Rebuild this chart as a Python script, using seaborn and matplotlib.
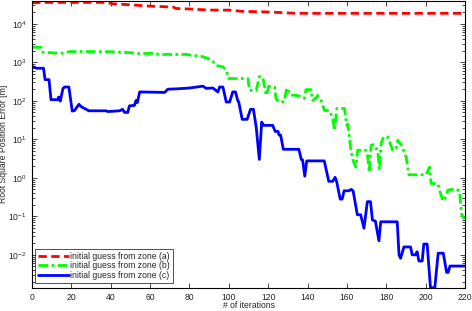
import numpy as np
import matplotlib; matplotlib.use('agg')
import matplotlib.pyplot as plt
import matplotlib.ticker as mticker
import seaborn as sns


sns.set_style("ticks")
plt.rcParams['font.family'] = ['Liberation Sans', 'DejaVu Sans']
plt.rcParams['mathtext.default'] = 'regular'
plt.rcParams['xtick.direction'] = 'in'
plt.rcParams['ytick.direction'] = 'in'

# zone (a): red dashed
iter_a = [0, 5, 38, 41, 51, 58, 66, 72, 73, 82, 90, 100, 107, 117, 127, 134, 220]
err_a = [3.5e4, 3.6e4, 3.6e4, 3.3e4, 3.1e4, 2.9e4, 2.8e4, 2.7e4, 2.5e4, 2.4e4,
         2.27e4, 2.27e4, 2.1e4, 2.05e4, 1.95e4, 1.87e4, 1.87e4]

# zone (b): green dash-dot
iter_b = [0, 4.6, 5.5, 13.3, 15.9, 19.2, 37.9, 49.7, 54.7, 61.5, 64.9, 78.4, 86.8,
          91.1, 93.6, 97, 98.7, 99.9, 109.7, 110.5, 113.9, 114.7, 115.6, 117.3,
          119, 120.3, 123.2, 124, 125.7, 128.2, 129.4, 131.6, 134.1, 136.7, 138.4,
          139.2, 141.8, 142.6, 144.3, 145.2, 146.9, 148.6, 151.1, 152.8, 153.7,
          154.9, 158.8, 159.9, 160.5, 162, 163.4, 164.6, 165.5, 169.7, 170.5,
          171.4, 172.3, 174, 175.7, 176.5, 177.4, 178.6, 180.8, 183.3, 185, 185.9,
          187.6, 190.1, 191.5, 200.3, 202, 202.8, 206.2, 207.1, 208.8, 210.5,
          211.3, 215.5, 217.2, 218.4, 220]
err_b = [2450, 2450, 1820, 1730, 1730, 1900, 1900, 1780, 1670, 1720, 1600, 1600,
         1400, 1170, 830, 760, 620, 378, 378, 186, 186, 275, 430, 400, 138, 240,
         230, 113, 92, 95, 215, 140, 140, 129, 115, 195, 195, 102, 120, 138, 102,
         56, 56, 35, 17, 63, 63, 23, 25, 5.2, 2.6, 1.9, 5.2, 5.2, 3.8, 1.4, 7,
         7.3, 4.7, 1.7, 7.8, 11.5, 11.5, 5.2, 5.6, 9.5, 7.2, 3.5, 1.2, 1.2, 1.9,
         0.71, 0.71, 0.48, 0.25, 0.33, 0.48, 0.52, 0.45, 0.107, 0.085]

# zone (c): blue solid
iter_c = [0, 2.4, 5.8, 6.6, 8.6, 9.6, 13, 13.5, 14.3, 15.7, 16.5, 18.7, 20.4, 21.6,
          23.8, 25, 27.5, 28.9, 37.7, 38.5, 44.5, 46, 47, 48.6, 49.5, 52, 52.8,
          53.5, 54.7, 67.4, 69, 74, 80, 86.8, 88.5, 91.9, 94.4, 95.3, 97, 98.7,
          100.4, 102, 103.4, 104.6, 105, 106.8, 109.3, 111, 112.5, 113.9, 115.5,
          116.7, 117.7, 122.3, 123.6, 125, 125.5, 126.3, 127.7, 135.6, 136.8,
          137.5, 138.6, 139.6, 148.5, 150.8, 152.8, 154, 154.8, 156.6, 157.6,
          158.6, 161, 162.3, 163.2, 165.3, 167, 168.7, 170.4, 172, 173, 174.5,
          176.3, 177.2, 185.6, 186.5, 187.3, 189, 192.4, 193.2, 194.9, 195.7,
          196.6, 198.3, 199.1, 200.8, 202.5, 204.7, 206.4, 209, 210.7, 211.5,
          212.4, 220]
err_c = [783, 700, 700, 355, 355, 107, 107, 125, 98, 210, 228, 228, 54, 56, 81,
         70, 60, 55, 55, 52.5, 55, 60, 50, 50, 74, 76, 102, 90, 170, 165, 200,
         205, 215, 240, 210, 215, 170, 228, 228, 93, 93, 170, 170, 98, 95, 33, 33,
         60, 60, 21, 3.0, 28, 23, 23, 16, 16, 13, 13, 5.5, 5.5, 3.0, 2.9, 1.1,
         2.75, 2.75, 0.81, 0.81, 1.03, 0.8, 0.28, 0.28, 0.46, 0.46, 0.5, 0.45,
         0.11, 0.11, 0.049, 0.24, 0.24, 0.08, 0.075, 0.023, 0.072, 0.072, 0.01,
         0.0081, 0.016, 0.016, 0.01, 0.01, 0.012, 0.0069, 0.0069, 0.019, 0.019,
         0.0014, 0.0014, 0.011, 0.011, 0.0035, 0.0035, 0.0051, 0.0051]

labels = ['initial guess from zone (a)', 'initial guess from zone (b)',
          'initial guess from zone (c)']

fs = 6.2

fig = plt.figure(figsize=(4.72, 3.11), dpi=100)
ax = fig.add_axes([0.068, 0.075, 0.917, 0.923])

sns.lineplot(x=iter_a, y=err_a, ax=ax, color=(1, 0, 0), lw=2, sort=False,
             estimator=None, label=labels[0], linestyle=(0, (3, 1.6)))
sns.lineplot(x=iter_b, y=err_b, ax=ax, color=(0, 1, 0), lw=2, sort=False,
             estimator=None, label=labels[1], linestyle=(0, (3.5, 1.2, 1, 1.2)))
sns.lineplot(x=iter_c, y=err_c, ax=ax, color=(0, 0, 1), lw=2, sort=False,
             estimator=None, label=labels[2])

ax.set_yscale('log')
ax.set_xlim(0, 220)
ax.set_ylim(min(err_c), 4.0e4)
ax.set_xticks(np.arange(0, 221, 20))
ax.yaxis.set_major_locator(mticker.LogLocator(base=10, numticks=20))
ax.yaxis.set_minor_locator(mticker.LogLocator(base=10, subs=np.arange(2, 10), numticks=20))
ax.yaxis.set_minor_formatter(mticker.NullFormatter())
ax.tick_params(which='both', top=True, right=True, labelsize=fs, width=0.6, pad=4)
ax.tick_params(which='major', length=3.5)
ax.tick_params(which='minor', length=2)
for s in ax.spines.values():
    s.set_linewidth(0.8)
    s.set_color('black')

ax.set_xlabel('# of iterations', fontsize=fs)
ax.set_ylabel('Root Square Position Error [m]', fontsize=fs)
ax.xaxis.set_label_coords(0.5, -0.047)
ax.yaxis.set_label_coords(-0.055, 0.5)

leg = ax.legend(loc='lower left', bbox_to_anchor=(0.007, 0.017), borderaxespad=0,
                fontsize=fs, frameon=True, fancybox=False, borderpad=0.35,
                labelspacing=0.05, handlelength=3.6, handletextpad=0.15)
leg.get_frame().set_edgecolor('black')
leg.get_frame().set_linewidth(0.6)

plt.savefig('out.png', dpi=100)
